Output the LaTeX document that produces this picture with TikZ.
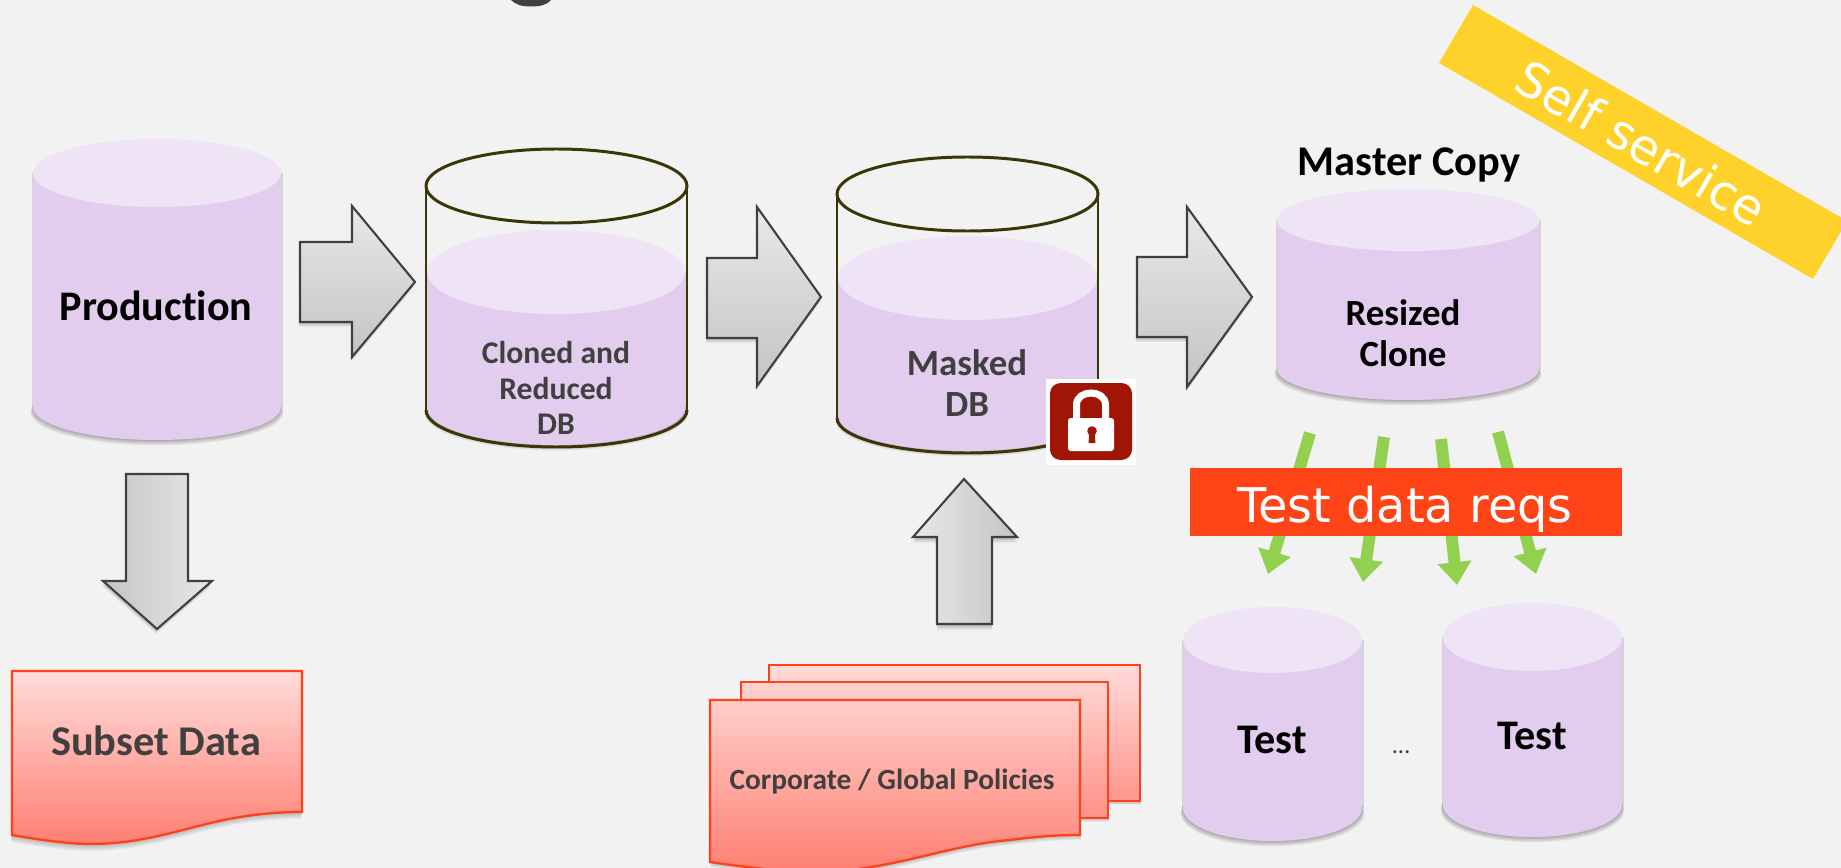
\documentclass[tikz,border=0pt]{standalone}
\usepackage{fontspec}
\setmainfont[Ligatures=NoCommon]{Carlito}
\newfontfamily\vfont{DejaVu Sans}
\usetikzlibrary{arrows.meta}
\definecolor{bg}{HTML}{F2F2F2}
\definecolor{cylbody}{HTML}{E2CDEF}
\definecolor{cyltop}{HTML}{EEE4F6}
\definecolor{olive}{HTML}{3A3608}
\definecolor{docred}{HTML}{FF4018}
\definecolor{dtop}{HTML}{FFDCDA}
\definecolor{dbot}{HTML}{FF7F72}
\definecolor{gdark}{HTML}{C4C4C4}
\definecolor{glight}{HTML}{E8E8E8}
\definecolor{gline}{HTML}{404040}
\definecolor{txt}{HTML}{404040}
\definecolor{grn}{HTML}{92D050}
\definecolor{bannerred}{HTML}{FF4518}
\definecolor{banneryel}{HTML}{FFD22B}
\definecolor{lockred}{HTML}{A01505}
\tikzset{
  lab/.style={inner sep=0pt,align=center,text=#1},
  lab/.default=black,
  blockarrow/.style={draw=gline,line width=1.2pt,line join=miter},
  docshape/.style={draw=docred,line width=1.3pt,top color=dtop,bottom color=dbot},
  greenarrow/.style={draw=grn,line width=6.8pt,-{Triangle[length=13pt,width=18.5pt]}},
  rim/.style={draw=olive,line width=1.7pt},
  rimside/.style={draw=olive,line width=1.2pt},
}
% soft shadow: stacked translucent copies of a path
\newcommand\softshadow[3]{\foreach \i in {1,...,6}{\fill[black,opacity=.045,shift={(#1*\i/6,#2*\i/6)}] #3;}}
% cylinder: left right ytopcentre rytop ybottomcentre rybottom
\newcommand\cylfill[6]{%
  \foreach \i in {1,...,6}{\fill[black,opacity=.05]
     ({(#1+#2)/2},#5+\i*0.9) ellipse[x radius={(#2-#1)/2+\i*0.4},y radius=#6];}
  \fill[black,opacity=.12] ({#1-1.5},#3) rectangle ({#2+1.5},#5);
  \fill[cylbody] ({(#1+#2)/2},#5) ellipse[x radius={(#2-#1)/2},y radius=#6];
  \fill[cylbody] (#1,#3) rectangle (#2,#5);
  \fill[cyltop] ({(#1+#2)/2},#3) ellipse[x radius={(#2-#1)/2},y radius=#4];
}
\newcommand\cylrim[6]{%
  \draw[rim] ({(#1+#2)/2},#3) ellipse[x radius={(#2-#1)/2},y radius=#4];
  \draw[rimside] (#1,#3) -- (#1,#5) (#2,#3) -- (#2,#5);
  \begin{scope}
    \clip ({#1-5},#5) rectangle ({#2+5},{#5+#6+5});
    \draw[rim] ({(#1+#2)/2},#5) ellipse[x radius={(#2-#1)/2},y radius=#6];
  \end{scope}
}
\begin{document}
\begin{tikzpicture}[x=0.02cm,y=-0.02cm]
\useasboundingbox (0,0) rectangle (1841,868);
\clip (0,0) rectangle (1841,868);
\fill[bg] (0,0) rectangle (1841,868);

% descender at the top edge
\fill[txt] (511,0) .. controls (516,5) and (522,6.5) .. (531,6.5) .. controls (540,6.5) and (547,5) .. (551,0) -- cycle;

% Production
\cylfill{33}{281}{173}{34}{407}{33}
\node[lab,font=\fontsize{24}{24}\selectfont\bfseries] (production) at (156,306) {Production};

% arrows
\softshadow{-1}{5}{(300,242) -- (352,242) -- (352,206) -- (415,282) -- (352,357) -- (352,322) -- (300,322) -- cycle}
\shade[blockarrow,top color=glight,bottom color=gdark] (300,242) -- (352,242) -- (352,206) -- (415,282) -- (352,357) -- (352,322) -- (300,322) -- cycle;
\softshadow{-1}{5}{(707,258) -- (757,258) -- (757,207) -- (821,297) -- (757,386) -- (757,338) -- (707,338) -- cycle}
\shade[blockarrow,top color=glight,bottom color=gdark] (707,258) -- (757,258) -- (757,207) -- (821,297) -- (757,386) -- (757,338) -- (707,338) -- cycle;
\softshadow{-1}{5}{(1137,257) -- (1187,257) -- (1187,207) -- (1252,297) -- (1187,387) -- (1187,337) -- (1137,337) -- cycle}
\shade[blockarrow,top color=glight,bottom color=gdark] (1137,257) -- (1187,257) -- (1187,207) -- (1252,297) -- (1187,387) -- (1187,337) -- (1137,337) -- cycle;
\softshadow{-1}{5}{(126,474) -- (188,474) -- (188,581) -- (212,581) -- (157,629) -- (103,581) -- (126,581) -- cycle}
\shade[blockarrow,left color=gdark,right color=glight] (126,474) -- (188,474) -- (188,581) -- (212,581) -- (157,629) -- (103,581) -- (126,581) -- cycle;
\softshadow{0}{6}{(964,479) -- (1017,537) -- (992,537) -- (992,624) -- (937,624) -- (937,537) -- (913,537) -- cycle}
\shade[blockarrow,left color=glight,right color=gdark] (964,479) -- (1017,537) -- (992,537) -- (992,624) -- (937,624) -- (937,537) -- (913,537) -- cycle;

% Cloned and Reduced DB
\cylfill{427}{685}{272}{42}{408}{37}
\cylrim{426}{687}{186}{37}{410}{37}
\node[lab=txt,font=\fontsize{18}{20.3}\selectfont\bfseries] (cloned) at (556,388) {Cloned and\\Reduced\\DB};

% Masked DB
\cylfill{838}{1097}{278}{42}{416}{35}
\cylrim{837}{1098}{194}{37}{418}{35}
\node[lab=txt,font=\fontsize{21}{23}\selectfont\bfseries] (masked) at (967,383) {Masked\\DB};

% padlock
\fill[white] (1046,379) rectangle (1136,465);
\fill[lockred,rounded corners=6] (1050,383) rectangle (1132,460);
\draw[white,line width=4pt] (1076.5,420) -- (1076.5,405) .. controls (1076.5,389) and (1105.5,389) .. (1105.5,405) -- (1105.5,420);
\fill[white,rounded corners=1.5] (1068,418) rectangle (1114,451);
\fill[lockred] (1092,431) circle (4.8);
\fill[lockred] (1089.5,432) -- (1094.5,432) -- (1095.5,443) -- (1088.5,443) -- cycle;

% Master copy
\node[lab,font=\fontsize{24.1}{24}\selectfont\bfseries] (master) at (1409,165) {Master Copy};
\cylfill{1277}{1539}{220}{31}{369}{31}
\node[lab,font=\fontsize{21}{23.3}\selectfont\bfseries] (resized) at (1403,333) {Resized\\Clone};

% green arrows, test data
\coordinate (g1s) at (1310,433); \coordinate (g1e) at (1268,574);
\coordinate (g2s) at (1384,437); \coordinate (g2e) at (1363,582);
\coordinate (g3s) at (1441,439); \coordinate (g3e) at (1457,585);
\coordinate (g4s) at (1498,432); \coordinate (g4e) at (1536,574);
\draw[greenarrow] (g1s) -- (g1e);
\draw[greenarrow] (g2s) -- (g2e);
\draw[greenarrow] (g3s) -- (g3e);
\draw[greenarrow] (g4s) -- (g4e);
\fill[bannerred] (1190,468) rectangle (1622,536);
\node[lab=white,anchor=base,font=\vfont\fontsize{27.2}{27}\selectfont] (reqs) at (1405,522) {Test data reqs};

% Self service
\fill[banneryel] (1473,5) -- (1439,63) -- (1813,279) -- (1847,221) -- cycle;
\node[lab=white,rotate=-30,font=\vfont\fontsize{27.5}{28}\selectfont] (self) at (1641,143) {Self service};

% Test cylinders
\cylfill{1183}{1362}{640}{33}{808}{33}
\node[lab,font=\fontsize{24}{24}\selectfont\bfseries] (test1) at (1272,740) {Test};
\cylfill{1443}{1622}{637}{34}{805}{32}
\node[lab,font=\fontsize{24}{24}\selectfont\bfseries] (test2) at (1532,736) {Test};
\node[lab=txt,font=\fontsize{14}{14}\selectfont] (dots) at (1401,752) {…};

% Subset data
\softshadow{-1}{7}{(12,671) -- (302,671) -- (302,812) .. controls (285,812) and (265,813) .. (240,817) .. controls (190,825) and (150,844) .. (90,844) .. controls (70,844) and (40,840) .. (12,835) -- cycle}
\shade[docshape] (12,671) -- (302,671) -- (302,812) .. controls (285,812) and (265,813) .. (240,817) .. controls (190,825) and (150,844) .. (90,844) .. controls (70,844) and (40,840) .. (12,835) -- cycle;
\node[lab=txt,font=\fontsize{24.1}{24}\selectfont\bfseries] (subset) at (156,741) {Subset Data};

% Policies
\softshadow{1}{4}{(769,665) rectangle (1140,801)}
\shade[docshape,top color=dtop,bottom color={rgb,255:red,255;green,150;blue,140}] (769,665) rectangle (1140,801);
\softshadow{1}{4}{(741,682) rectangle (1108,818)}
\shade[docshape,top color=dtop!90!dbot,bottom color={rgb,255:red,255;green,145;blue,135}] (741,682) rectangle (1108,818);
\softshadow{1}{5}{(710,700) -- (1080,700) -- (1080,835) .. controls (1060,835) and (1040,836) .. (1010,840) .. controls (945,845) and (890,872) .. (812,872) .. controls (785,872) and (745,867) .. (710,862) -- cycle}
\shade[docshape,top color=dtop!85!dbot] (710,700) -- (1080,700) -- (1080,835) .. controls (1060,835) and (1040,836) .. (1010,840) .. controls (945,845) and (890,872) .. (812,872) .. controls (785,872) and (745,867) .. (710,862) -- cycle;
\node[lab=txt,font=\fontsize{16.7}{17}\selectfont\bfseries] (policies) at (892,782) {Corporate / Global Policies};
\end{tikzpicture}
\end{document}
